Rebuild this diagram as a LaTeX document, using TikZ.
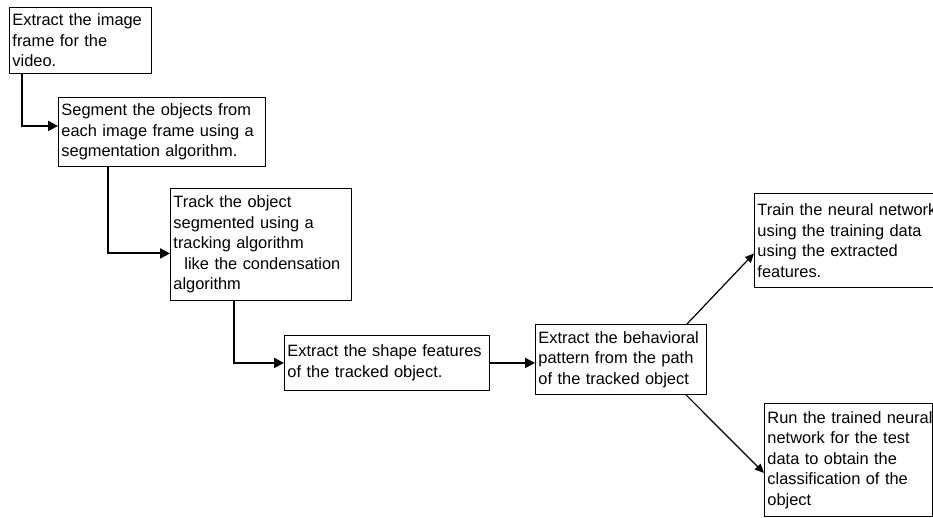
\documentclass[tikz,border=0pt]{standalone}
\usepackage{fontspec}
\setmainfont{Liberation Sans}
\usetikzlibrary{arrows.meta}
\hyphenpenalty=10000\relax
\begin{document}
\begin{tikzpicture}[x=1pt,y=-1pt,
  box/.style={draw=black, line width=0.9pt, anchor=north west, align=left,
    inner xsep=3pt, inner ysep=2pt, font=\fontsize{16.4}{20.5}\selectfont},
  thickconn/.style={line width=2pt, -{Triangle[length=10pt,width=10pt]}},
  thinconn/.style={line width=1.2pt, -{Triangle[length=9pt,width=8pt]}}]
\useasboundingbox (0,0) rectangle (933,518);
\clip (0,0) rectangle (933,518);
\node[box, text width=136pt, minimum height=66pt] (b1) at (9,7)
  {Extract the image\\frame for the\\video.};
\node[box, text width=201pt, minimum height=69pt] (b2) at (58,97)
  {Segment the objects from\\each image frame using a\\segmentation algorithm.};
\node[box, text width=175pt, minimum height=112pt] (b3) at (170,188)
  {Track the object\\segmented using a\\tracking algorithm\\\hspace*{11pt}like the condensation\\algorithm};
\node[box, text width=199pt, minimum height=55pt] (b4) at (284,335)
  {Extract the shape features\\of the tracked object.};
\node[box, text width=165pt, minimum height=70pt] (b5) at (535,324)
  {Extract the behavioral\\pattern from the path\\of the tracked object};
\node[box, text width=200pt, minimum height=94pt] (b6) at (754,193)
  {Train the neural network\\using the training data\\using the extracted\\features.};
\node[box, text width=161.5pt, minimum height=113pt] (b7) at (764,403)
  {\mbox{Run the trained neural}\\network for the test\\data to obtain the\\classification of the\\object};
\draw[thickconn] ([xshift=13pt]b1.south west) |- ([yshift=6pt]b2.west);
\draw[thickconn] ([xshift=50pt]b2.south west) |- ([yshift=-9pt]b3.west);
\draw[thickconn] ([xshift=64pt]b3.south west) |- (b4.west);
\draw[thickconn] (b4.east) -- (b4.east -| b5.west);
\draw[thinconn] ([xshift=152pt]b5.north west) -- ([yshift=-13pt]b6.west);
\draw[thinconn] ([xshift=151pt]b5.south west) -- ([yshift=-13pt]b7.west);
\end{tikzpicture}
\end{document}
